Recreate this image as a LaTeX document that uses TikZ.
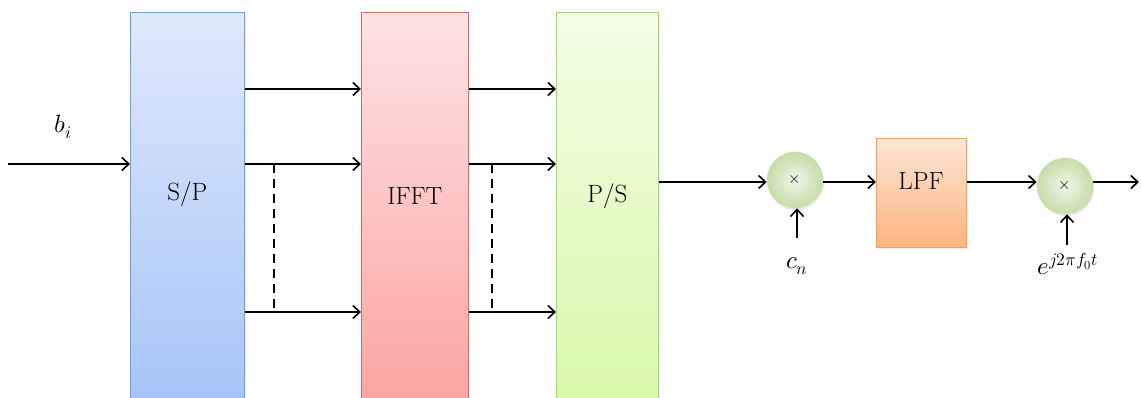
\documentclass[tikz,border=0pt]{standalone}
\usepackage{amsmath}
\usepackage{fontspec}
\usepackage{unicode-math}
\usetikzlibrary{arrows.meta,shadows}

\definecolor{spblue}{HTML}{6F9FDC}
\definecolor{sptop}{HTML}{DFE9FB}
\definecolor{spbot}{HTML}{A6C4F8}
\definecolor{ifftred}{HTML}{D46A6A}
\definecolor{iffttop}{HTML}{FDE3E3}
\definecolor{ifftbot}{HTML}{FBA4A2}
\definecolor{psgreen}{HTML}{A9D470}
\definecolor{pstop}{HTML}{F3FDE6}
\definecolor{psbot}{HTML}{D8F9AA}
\definecolor{lpforange}{HTML}{F5A05A}
\definecolor{lpftop}{HTML}{FDE6D6}
\definecolor{lpfbot}{HTML}{FBB47E}
\definecolor{mixgreen}{HTML}{C6DCA8}

\begin{document}
\begin{tikzpicture}[x=1pt,y=-1pt,
    every node/.style={font=\fontsize{25}{30}\selectfont},
    arr/.style={line width=1.6pt,-{Straight Barb[length=7pt,width=13pt,line width=1.6pt]}},
    blk/.style={draw,line width=0.8pt,rectangle,inner sep=0pt,anchor=north west,
                drop shadow={opacity=0.15,shadow xshift=1.5pt,shadow yshift=-1.5pt}},
    mixer/.style={circle,minimum size=56pt,inner sep=0pt,draw=mixgreen!80!white,line width=0.6pt,
                  inner color=mixgreen!25!white,outer color=mixgreen,
                  drop shadow={opacity=0.2,shadow xshift=1pt,shadow yshift=-2pt},
                  font=\fontsize{16}{16}\selectfont\bfseries}]
    \useasboundingbox (0,0) rectangle (1141,398);
    % blocks
    \node[blk,draw=spblue,top color=sptop,bottom color=spbot,
          minimum width=114pt,minimum height=392pt] (sp) at (130,12) {};
    \node[blk,draw=ifftred,top color=iffttop,bottom color=ifftbot,
          minimum width=107pt,minimum height=392pt] (ifft) at (361,12) {};
    \node[blk,draw=psgreen,top color=pstop,bottom color=psbot,
          minimum width=102pt,minimum height=392pt] (ps) at (556,12) {};
    \node at ([yshift=14pt]sp.center) {S/P};
    \node at ([yshift=12pt]ifft.center) {IFFT};
    \node at ([yshift=12pt]ps.center) {P/S};
    \node[blk,draw=lpforange,top color=lpftop,bottom color=lpfbot,
          minimum width=90pt,minimum height=109pt] (lpf) at (876,138) {};
    \node at (921,181) {LPF};
    \node[mixer] (m1) at (795,180) {$\times$};
    \node[mixer] (m2) at (1065,186) {$\times$};
    % inputs and labels
    \coordinate (in) at (8,164);
    \coordinate (out) at (1139,182);
    \coordinate (cnin) at (797,238);
    \coordinate (ein) at (1067,245);
    \node (bi) at (63,127) {$b_i$};
    \node (cn) at (797,266) {$c_n$};
    \node (ej) at (1068,264) {$e^{j2\pi f_0 t}$};
    % connectors
    \draw[arr] (in) -- (sp.west |- in);
    \foreach \y in {89,164,312}{
      \draw[arr] (sp.east |- 0,\y) -- (ifft.west |- 0,\y);
      \draw[arr] (ifft.east |- 0,\y) -- (ps.west |- 0,\y);
    }
    \draw[line width=1.6pt,dash pattern=on 9pt off 6pt] (274,164) -- (274,312);
    \draw[line width=1.6pt,dash pattern=on 9pt off 6pt] (492,164) -- (492,312);
    \draw[arr] (ps.east |- 0,182) -- (m1.west |- 0,182);
    \draw[arr] (m1.east |- 0,182) -- (lpf.west |- 0,182);
    \draw[arr] (lpf.east |- 0,182) -- (m2.west |- 0,182);
    \draw[arr] (m2.east |- 0,182) -- (out);
    \draw[arr] (cnin) -- (m1.south -| cnin);
    \draw[arr] (ein) -- (m2.south -| ein);
\end{tikzpicture}
\end{document}
